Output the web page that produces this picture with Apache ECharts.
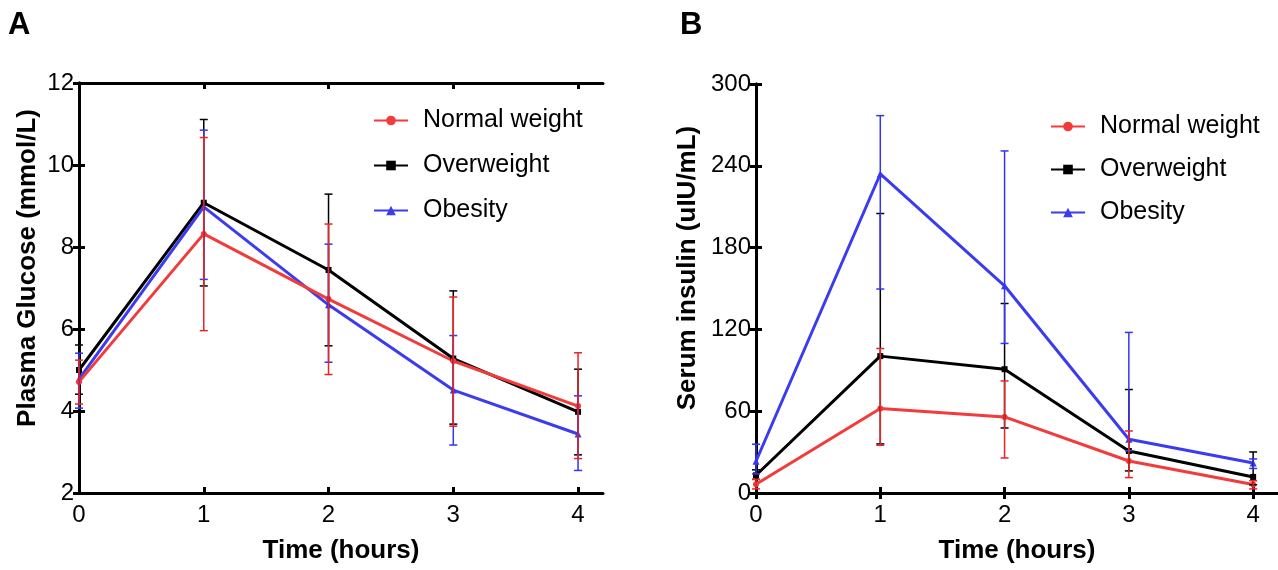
<!DOCTYPE html>
<html>
<head>
<meta charset="utf-8">
<script src="https://cdn.jsdelivr.net/npm/echarts@6/dist/echarts.min.js"></script>
<style>
html,body{margin:0;padding:0;background:#fff;}
#chart{width:1278px;height:570px;}
</style>
</head>
<body>
<div id="chart"></div>
<script>
// ---------- Data ----------
const timePoints = [0, 1, 2, 3, 4];
const xTickValues = [0, 1, 2, 3, 4];
const seriesNames = ['Normal weight', 'Overweight', 'Obesity'];
const xTitle = 'Time (hours)';
const yTitleA = 'Plasma Glucose (mmol/L)';
const yTitleB = 'Serum insulin (uIU/mL)';

// Panel A: Plasma glucose (mmol/L)
const glucoseNormalMean = [4.71, 8.32, 6.73, 5.22, 4.12];
const glucoseNormalLow  = [4.17, 5.96, 4.89, 3.63, 2.84];
const glucoseNormalHigh = [5.24, 10.67, 8.56, 6.78, 5.42];
const glucoseOverMean   = [5.00, 9.08, 7.44, 5.28, 3.98];
const glucoseOverLow    = [4.41, 7.05, 5.59, 3.68, 2.93];
const glucoseOverHigh   = [5.61, 11.11, 9.29, 6.93, 5.02];
const glucoseObeseMean  = [4.78, 8.98, 6.59, 4.51, 3.44];
const glucoseObeseLow   = [4.07, 7.21, 5.19, 3.17, 2.55];
const glucoseObeseHigh  = [5.41, 10.85, 8.07, 5.84, 4.37];

// Panel B: Serum insulin (uIU/mL)
const insulinNormalMean = [6.4, 62, 55.8, 23.5, 6.2];
const insulinNormalLow  = [3, 35, 25.7, 11.3, 3];
const insulinNormalHigh = [10, 106, 82.2, 45.5, 9];
const insulinOverMean   = [13, 100.4, 90.8, 30.8, 11.8];
const insulinOverLow    = [10, 36, 47.7, 16.2, 6];
const insulinOverHigh   = [17, 205, 139, 75.9, 30.1];
const insulinObeseMean  = [23.3, 234, 152, 39.4, 22];
const insulinObeseLow   = [14, 149.6, 109.7, 31, 18];
const insulinObeseHigh  = [35.8, 276.8, 250.9, 117.8, 25];

// ---------- Style ----------
const FONT = "'Liberation Sans', Arial, Helvetica, sans-serif";
const RED = '#f23b3b', BLACK = '#000000', BLUE = '#3b3bf0';
const RED_ERR = '#e82424', BLUE_ERR = '#3434f2';

function lineSeries(name, color, symbol, mean, xi, yi) {
  return {
    name: name, type: 'line', xAxisIndex: xi, yAxisIndex: yi,
    data: timePoints.map((t, i) => [t, mean[i]]),
    symbol: symbol, symbolSize: symbol === 'triangle' ? 7 : 6,
    lineStyle: { color: color, width: 3 },
    itemStyle: { color: color },
    z: 2, animation: false, silent: true
  };
}
function errSeries(color, low, high, xi, yi) {
  return {
    type: 'custom', xAxisIndex: xi, yAxisIndex: yi,
    data: timePoints.map((t, i) => [t, low[i], high[i]]),
    encode: { x: 0, y: [1, 2] },
    renderItem: function (params, api) {
      const xv = api.value(0);
      const lo = api.coord([xv, api.value(1)]);
      const hi = api.coord([xv, api.value(2)]);
      const hw = 4;
      const st = { stroke: color, lineWidth: 1.5 };
      return {
        type: 'group', children: [
          { type: 'line', shape: { x1: hi[0], y1: hi[1], x2: lo[0], y2: lo[1] }, style: st },
          { type: 'line', shape: { x1: hi[0] - hw, y1: hi[1], x2: hi[0] + hw, y2: hi[1] }, style: st },
          { type: 'line', shape: { x1: lo[0] - hw, y1: lo[1], x2: lo[0] + hw, y2: lo[1] }, style: st }
        ]
      };
    },
    z: 3, animation: false, silent: true
  };
}

const axisLineStyle = { show: true, lineStyle: { color: '#000', width: 3 } };
const tickStyle = { show: true, inside: true, length: 6, lineStyle: { color: '#000', width: 3 } };
const labelStyle = { color: '#000', fontSize: 24, fontFamily: FONT };
const nameStyle = { color: '#000', fontSize: 26, fontWeight: 'bold', fontFamily: FONT };

function xAxes(gi) {
  return [
    {
      gridIndex: gi, type: 'value', min: 0, max: 4.2, interval: 1, position: 'bottom',
      axisLine: axisLineStyle, axisTick: Object.assign({ customValues: xTickValues }, tickStyle),
      axisLabel: Object.assign({ customValues: xTickValues, margin: 10 }, labelStyle),
      splitLine: { show: false },
      name: xTitle, nameLocation: 'middle', nameGap: 45, nameTextStyle: nameStyle
    },
    {
      gridIndex: gi, type: 'value', min: 0, max: 4.2, interval: 1, position: 'top',
      axisLine: axisLineStyle, axisTick: Object.assign({ customValues: xTickValues }, tickStyle),
      axisLabel: { show: false }, splitLine: { show: false }
    }
  ];
}
function yAxes(gi, min, max, interval) {
  return [
    {
      gridIndex: gi, type: 'value', min: min, max: max, interval: interval, position: 'left',
      axisLine: axisLineStyle, axisTick: tickStyle,
      axisLabel: Object.assign({ margin: 5 }, labelStyle),
      splitLine: { show: false }
    },
    {
      gridIndex: gi, type: 'value', min: min, max: max, interval: interval, position: 'right',
      axisLine: axisLineStyle, axisTick: tickStyle,
      axisLabel: { show: false }, splitLine: { show: false }
    }
  ];
}

function legend(left, top, gap) {
  return {
    data: seriesNames, orient: 'vertical', left: left, top: top, itemGap: gap,
    itemWidth: 34, itemHeight: 12, selectedMode: false,
    textStyle: { color: '#000', fontSize: 25, fontFamily: FONT, lineHeight: 25, padding: [0, 0, 0, 10] }
  };
}

function yTitle(text, x, y) {
  return {
    type: 'text', x: x, y: y, rotation: Math.PI / 2,
    style: { text: text, fontSize: 26, fontWeight: 'bold', fontFamily: FONT, fill: '#000', align: 'center', verticalAlign: 'middle' }
  };
}

const option = {
  backgroundColor: '#fff',
  animation: false,
  grid: [
    { left: 79, top: 83, width: 524, height: 410 },
    { left: 756, top: 84, width: 524, height: 409 }
  ],
  xAxis: xAxes(0).concat(xAxes(1)),
  yAxis: yAxes(0, 2, 12, 2).concat(yAxes(1, 0, 300, 60)),
  legend: [legend(368, 103, 20), legend(1045, 109, 18)],
  graphic: [
    { type: 'text', left: 8, top: 10, style: { text: 'A', fontSize: 31, fontWeight: 'bold', fontFamily: FONT, fill: '#000' } },
    { type: 'text', left: 680, top: 10, style: { text: 'B', fontSize: 31, fontWeight: 'bold', fontFamily: FONT, fill: '#000' } },
    yTitle(yTitleA, 28, 268),
    yTitle(yTitleB, 688, 268)
  ],
  series: [
    // Panel A
    lineSeries('Overweight', BLACK, 'rect', glucoseOverMean, 0, 0),
    lineSeries('Obesity', BLUE, 'triangle', glucoseObeseMean, 0, 0),
    lineSeries('Normal weight', RED, 'circle', glucoseNormalMean, 0, 0),
    errSeries(BLACK, glucoseOverLow, glucoseOverHigh, 0, 0),
    errSeries(BLUE_ERR, glucoseObeseLow, glucoseObeseHigh, 0, 0),
    errSeries(RED_ERR, glucoseNormalLow, glucoseNormalHigh, 0, 0),
    // Panel B
    lineSeries('Overweight', BLACK, 'rect', insulinOverMean, 2, 2),
    lineSeries('Obesity', BLUE, 'triangle', insulinObeseMean, 2, 2),
    lineSeries('Normal weight', RED, 'circle', insulinNormalMean, 2, 2),
    errSeries(BLACK, insulinOverLow, insulinOverHigh, 2, 2),
    errSeries(BLUE_ERR, insulinObeseLow, insulinObeseHigh, 2, 2),
    errSeries(RED_ERR, insulinNormalLow, insulinNormalHigh, 2, 2)
  ]
};

const chart = echarts.init(document.getElementById('chart'), null, { renderer: 'canvas' });
chart.setOption(option);
</script>
</body>
</html>
